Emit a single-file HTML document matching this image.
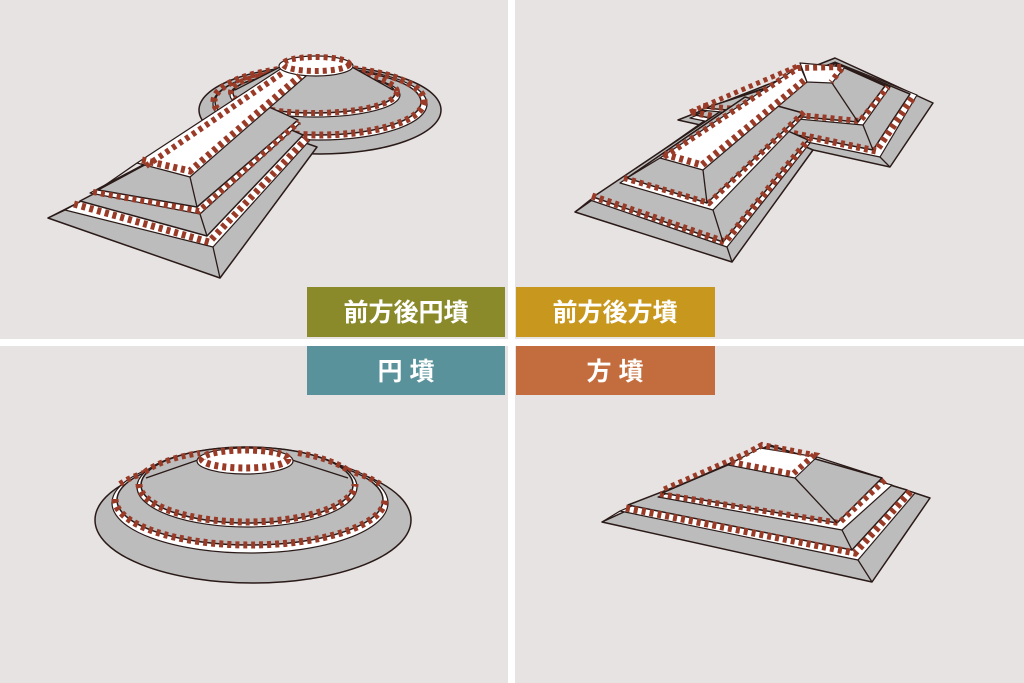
<!DOCTYPE html>
<html><head><meta charset="utf-8"><style>
html,body{margin:0;padding:0;background:#e6e3e2}
svg{display:block}
.g{fill:#bcbcbc;stroke:#2a1a18;stroke-width:1.5;stroke-linejoin:round}
.gn{fill:#bcbcbc;stroke:none}
.w{fill:#ffffff;stroke:#2a1a18;stroke-width:1.2;stroke-linejoin:round}
.l{fill:none;stroke:#2a1a18;stroke-width:1.3}
.h{fill:none;stroke:#9a3b28;stroke-width:7;stroke-dasharray:4 4}
.t{font-family:"Liberation Sans","Noto Sans CJK JP",sans-serif;font-weight:bold;fill:#fff;font-size:25px}
</style></head><body>
<svg width="1024" height="683" viewBox="0 0 1024 683" xmlns="http://www.w3.org/2000/svg">
<rect width="1024" height="683" fill="#e6e3e2"/>
<rect x="508" y="0" width="7" height="683" fill="#fff"/>
<rect x="0" y="339" width="1024" height="7" fill="#fff"/>

<!-- ===== Top-left keyhole ===== -->
<g>
<ellipse class="g" cx="320" cy="110" rx="121" ry="44"/>
<polygon class="g" points="48,218 220,278 317,147 240,120"/>
<ellipse class="w" cx="320" cy="104" rx="107" ry="36"/>
<polygon class="w" points="65,210 213,247 310,140 240,115"/>
<line class="l" x1="220" y1="278" x2="213" y2="247"/>
<line class="l" x1="48" y1="218" x2="65" y2="210"/>
<ellipse class="g" cx="318" cy="102" rx="103" ry="33"/>
<ellipse class="h" cx="319" cy="101" rx="105" ry="34"/>
<polygon class="g" points="80,201 207,236 303,135 250,112"/>
<polyline class="h" points="74,204 209,242 307,138"/>
<ellipse class="w" cx="315" cy="95" rx="85" ry="22"/>
<polygon class="w" points="90,193 200,214 300,123 255,105"/>
<line class="l" x1="207" y1="236" x2="200" y2="214"/>
<ellipse class="g" cx="314" cy="93" rx="81" ry="20"/>
<ellipse class="h" cx="314" cy="92" rx="83" ry="21" style="stroke-width:6"/>
<polygon class="gn" points="280,66 235,92 393,92 352,66"/>
<line class="l" x1="280" y1="67" x2="235" y2="90"/>
<line class="l" x1="352" y1="67" x2="393" y2="90"/>
<polygon class="g" points="98,190 197,207 298,120 260,103"/>
<polyline class="h" points="93,192 199,211 299,122" style="stroke-width:6"/>
<polygon class="w" points="137,163 190,177 306,76 282,68"/>
<line class="l" x1="197" y1="207" x2="190" y2="177"/>
<line class="l" x1="98" y1="190" x2="137" y2="163"/>
<ellipse class="w" cx="316" cy="66" rx="37" ry="10"/>
<polyline class="h" points="142,160 190,171 300,76"/>
<polyline class="h" points="146,166 284,72" style="stroke-width:6"/>
<ellipse class="h" cx="316" cy="64" rx="33" ry="7" style="stroke-width:6"/>
</g>

<!-- ===== Top-right zenpo-koho ===== -->
<g>
<!-- level 1 -->
<polygon class="g" points="678,120 890,167 933,103 835,58"/>
<polygon class="g" points="575,212 732,262 813,150 720,110"/>
<polygon class="w" points="690,118 880,157 917,95 835,62"/>
<polygon class="w" points="590,200 727,247 810,143 725,108"/>
<line class="l" x1="732" y1="262" x2="727" y2="247"/>
<line class="l" x1="890" y1="167" x2="880" y2="157"/>
<line class="l" x1="575" y1="212" x2="590" y2="200"/>
<!-- level 2 -->
<polygon class="g" points="695,115 873,150 910,94 835,63"/>
<polyline class="h" points="692,112 876,151 914,96"/>
<polygon class="g" points="593,197 723,242 808,140 730,105"/>
<polyline class="h" points="592,196 725,242 809,139"/>
<polygon class="w" points="700,110 863,125 890,87 835,64"/>
<polygon class="w" points="620,183 713,210 803,117 740,100"/>
<line class="l" x1="723" y1="242" x2="713" y2="210"/>
<line class="l" x1="873" y1="150" x2="863" y2="125"/>
<!-- level 3 -->
<polygon class="g" points="705,108 858,122 885,86 838,65"/>
<polyline class="h" points="703,106 860,121 888,87" style="stroke-width:6"/>
<polygon class="g" points="627,178 707,203 803,113 745,97"/>
<polyline class="h" points="624,178 709,203 804,112" style="stroke-width:6"/>
<polygon class="w" points="660,158 703,170 807,82 800,66"/>
<line class="l" x1="707" y1="203" x2="703" y2="170"/>
<line class="l" x1="627" y1="178" x2="660" y2="158"/>
<line class="l" x1="858" y1="122" x2="832" y2="83"/>
<line class="l" x1="885" y1="86" x2="845" y2="67"/>
<polygon class="w" points="800,63 845,67 832,83 807,82"/>
<polyline class="h" points="664,154 702,165 806,79"/>
<polyline class="h" points="664,157 798,68 843,67 831,82" style="stroke-width:6"/>
<polyline class="h" points="690,112 800,65" style="stroke-width:5"/>
</g>

<!-- ===== Bottom-left round ===== -->
<g>
<ellipse class="g" cx="253" cy="520" rx="158" ry="63"/>
<ellipse class="w" cx="250" cy="503" rx="138" ry="50"/>
<ellipse class="g" cx="250" cy="500" rx="133" ry="45"/>
<path class="h" d="M115 499 A135 46 0 0 0 385 499"/>
<path class="h" d="M120 484 A135 40 0 0 1 200 462" style="stroke-width:6"/>
<path class="h" d="M300 462 A135 40 0 0 1 380 484" style="stroke-width:6"/>
<ellipse class="w" cx="247" cy="487" rx="110" ry="40"/>
<ellipse class="g" cx="247" cy="485" rx="106" ry="38"/>
<path class="h" d="M139 484 A108 38 0 0 0 355 484"/>
<path class="h" d="M145 472 A108 36 0 0 1 200 453" style="stroke-width:6"/>
<path class="h" d="M298 453 A108 36 0 0 1 350 472" style="stroke-width:6"/>
<polygon class="gn" points="198,461 143,480 351,480 292,461"/>
<line class="l" x1="198" y1="460" x2="146" y2="478"/>
<line class="l" x1="292" y1="460" x2="348" y2="478"/>
<ellipse class="w" cx="245" cy="461" rx="48" ry="13"/>
<ellipse class="h" cx="245" cy="459" rx="43" ry="9" style="stroke-width:7"/>
</g>

<!-- ===== Bottom-right square ===== -->
<g>
<polygon class="g" points="602,522 872,582 930,498 770,445"/>
<polygon class="w" points="620,511 858,560 915,493 770,448"/>
<line class="l" x1="872" y1="582" x2="858" y2="560"/>
<line class="l" x1="602" y1="522" x2="620" y2="511"/>
<polygon class="g" points="628,505 852,550 907,490 770,450"/>
<polyline class="h" points="626,508 855,553 911,491"/>
<polygon class="w" points="658,497 842,530 892,485 770,452"/>
<line class="l" x1="852" y1="550" x2="842" y2="530"/>
<polygon class="g" points="662,493 837,523 882,478 770,446"/>
<polyline class="h" points="660,494 839,523 886,479" style="stroke-width:6"/>
<line class="l" x1="662" y1="493" x2="728" y2="465"/>
<line class="l" x1="837" y1="523" x2="795" y2="478"/>
<line class="l" x1="882" y1="478" x2="817" y2="457"/>
<polygon class="w" points="728,465 795,478 817,457 760,448"/>
<polyline class="h" points="731,462 793,474 814,455 762,445 731,462" style="stroke-width:6"/>
<polyline class="h" points="664,489 760,447" style="stroke-width:5"/>
</g>

<!-- Labels -->
<rect x="307" y="287" width="198" height="50" fill="#8a8a2b"/>
<rect x="516" y="287" width="199" height="50" fill="#c8981e"/>
<rect x="307" y="346" width="198" height="49" fill="#5a929b"/>
<rect x="516" y="346" width="199" height="49" fill="#c36d3e"/>
<text class="t" x="406" y="321" text-anchor="middle">前方後円墳</text>
<text class="t" x="615" y="321" text-anchor="middle">前方後方墳</text>
<text class="t" x="406" y="380" text-anchor="middle">円 墳</text>
<text class="t" x="615" y="380" text-anchor="middle">方 墳</text>
</svg>
</body></html>
